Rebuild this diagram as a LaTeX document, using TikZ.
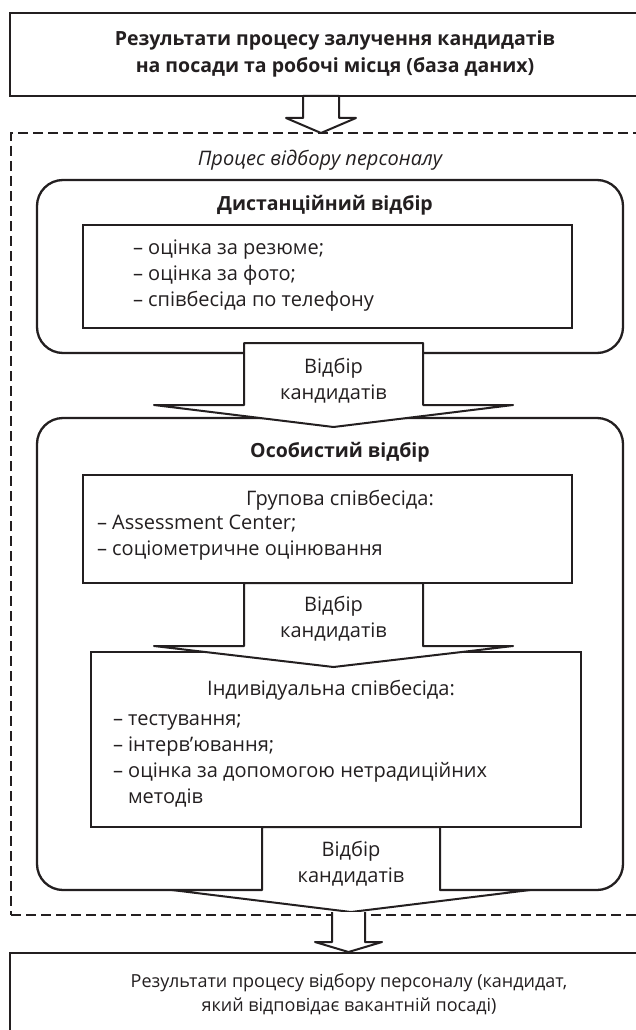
\documentclass[tikz,border=0pt]{standalone}
\usepackage{fontspec}
\setmainfont{Open Sans}
\usetikzlibrary{calc}
\definecolor{ink}{HTML}{231F20}
\newcommand\BlockArr[6]{% cx, shaft top, wing y, tip y, shaft half, head half
  \draw[barrow] (#1-#5,#2) -- (#1-#5,#3) -- (#1-#6,#3) -- (#1,#4) -- (#1+#6,#3) -- (#1+#5,#3) -- (#1+#5,#2) -- cycle;}
\begin{document}
\begin{tikzpicture}[x=1pt,y=-1pt,
  every node/.style={inner sep=0pt,outer sep=0pt,text=ink},
  sqbox/.style={draw=ink,line width=2.3pt,fill=white,anchor=north west},
  rndbox/.style={draw=ink,line width=2.3pt,rounded corners=26pt,anchor=north west},
  dshbox/.style={draw=ink,line width=1.8pt,dash pattern=on 10pt off 5pt,anchor=north west},
  barrow/.style={draw=ink,line width=2pt,fill=white,line join=round},
  tn/.style={font=\fontsize{20}{26}\selectfont,align=center},
  tsm/.style={font=\fontsize{18}{24}\selectfont,align=center},
  tb/.style={font=\bfseries\fontsize{19.5}{27}\selectfont,align=center},
  ti/.style={font=\itshape\fontsize{20}{26}\selectfont},
  tl/.style={font=\fontsize{20}{26}\selectfont,align=left,anchor=west}]
\useasboundingbox (0,0) rectangle (636,1030);
\fill[white] (0,0) rectangle (636,1030);

% outer frames
\node[dshbox,minimum width=660pt,minimum height=782pt] (proc) at (11,133) {};
\node[sqbox,minimum width=660pt,minimum height=83pt] (src) at (10,13) {};
\node[sqbox,minimum width=660pt,minimum height=90pt] (res) at (10,953) {};

% stage frames
\node[rndbox,minimum width=586pt,minimum height=173pt] (dist) at (37,180) {};
\node[rndbox,minimum width=586pt,minimum height=472pt] (pers) at (37,418) {};

% inner boxes
\node[sqbox,minimum width=489pt,minimum height=103pt] (in1) at (83,225) {};
\node[sqbox,minimum width=489pt,minimum height=108pt] (in2) at (83,475) {};
\node[sqbox,minimum width=490pt,minimum height=175pt] (in3) at (91,652) {};

% block arrows
\BlockArr{321}{96}{118}{133}{18}{35}
\BlockArr{333.5}{343}{405}{427}{89.5}{179.5}
\BlockArr{333.5}{583}{646}{667}{89.5}{179.5}
\fill[white] (332,905) rectangle (365,943);
\BlockArr{351}{827}{890}{912}{89}{179}
\fill[white] (332,912) -- (332,942) -- (315,942) -- (348.5,952) -- (382,942) -- (365,942) -- (365,912) -- cycle;
\draw[barrow,fill=none] (332,912) -- (332,942) -- (315,942) -- (348.5,952) -- (382,942) -- (365,942) -- (365,912);

% texts
\node[tb] (srct) at (335,54) {Результати процесу залучення кандидатів\\на посади та робочі місця (база даних)};
\node[ti] (proct) at (320,160) {Процес відбору персоналу};
\node[tb] (distt) at (325,205) {Дистанційний відбір};
\node[tl] (in1t) at (133,276) {– оцінка за резюме;\\– оцінка за фото;\\– співбесіда по телефону};
\node[tn] (a2t) at (333.5,381) {Відбір\\кандидатів};
\node[tb] (perst) at (340,452) {Особистий відбір};
\node[tn] (in2h) at (340,500) {Групова співбесіда:};
\node[tl] (in2t) at (97,538) {– Assessment Center;\\– соціометричне оцінювання};
\node[tn] (a3t) at (333.5,619) {Відбір\\кандидатів};
\node[tn] (in3h) at (331,690) {Індивідуальна співбесіда:};
\node[tl] (in3t) at (113,761) {– тестування;\\– інтерв’ювання;\\– оцінка за допомогою нетрадиційних\\\hspace*{15pt}методів};
\node[tn] (a4t) at (351,864) {Відбір\\кандидатів};
\node[tsm] (rest) at (349,994) {Результати процесу відбору персоналу (кандидат,\\який відповідає вакантній посаді)};
\end{tikzpicture}
\end{document}
